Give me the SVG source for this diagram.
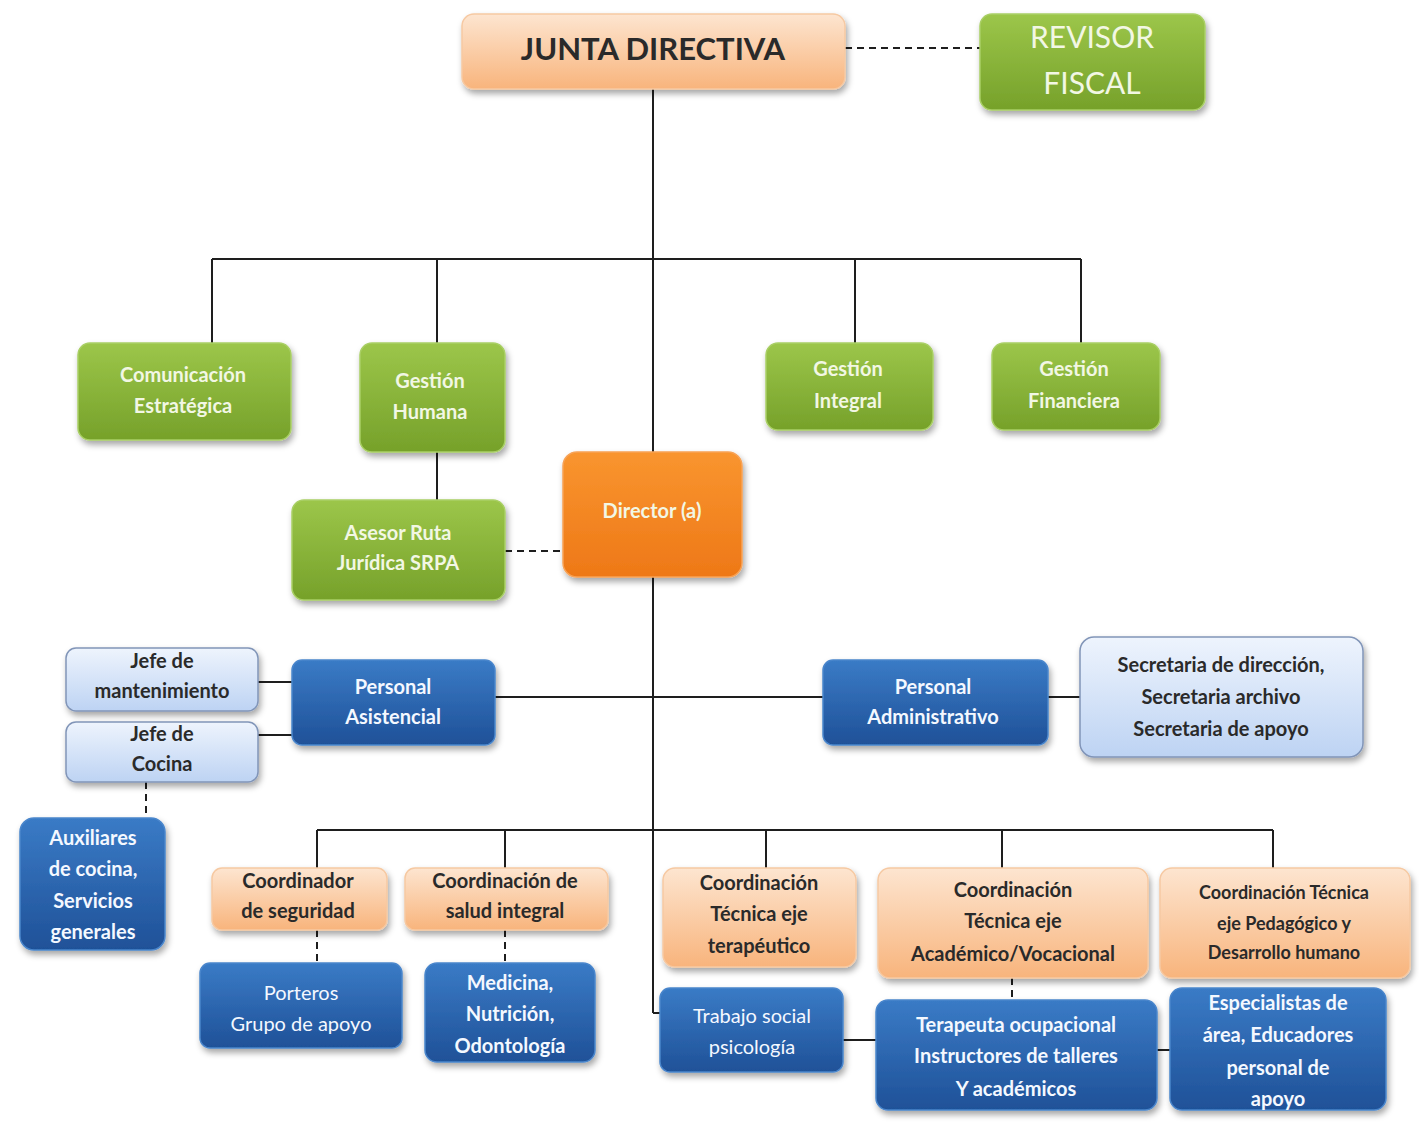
<svg xmlns="http://www.w3.org/2000/svg" width="1419" height="1122" viewBox="0 0 1419 1122">
<defs>
<linearGradient id="gPeach" x1="0" y1="0" x2="0" y2="1"><stop offset="0" stop-color="#FDE5D0"/><stop offset="1" stop-color="#F8B47C"/></linearGradient>
<linearGradient id="gGreen" x1="0" y1="0" x2="0" y2="1"><stop offset="0" stop-color="#9CC64A"/><stop offset="1" stop-color="#76A12A"/></linearGradient>
<linearGradient id="gOrange" x1="0" y1="0" x2="0" y2="1"><stop offset="0" stop-color="#F9952F"/><stop offset="1" stop-color="#EE7817"/></linearGradient>
<linearGradient id="gBlue" x1="0" y1="0" x2="0" y2="1"><stop offset="0" stop-color="#3A7BC6"/><stop offset="1" stop-color="#1F5198"/></linearGradient>
<linearGradient id="gLight" x1="0" y1="0" x2="0" y2="1"><stop offset="0" stop-color="#EEF4FD"/><stop offset="1" stop-color="#BDD3F3"/></linearGradient>
<filter id="sh" x="-10%" y="-10%" width="125%" height="135%"><feDropShadow dx="2" dy="4" stdDeviation="3" flood-color="#000" flood-opacity="0.35"/></filter>
<style>
.peach{fill:url(#gPeach);stroke:#F6C9A2;stroke-width:1.5;filter:url(#sh)}
.green{fill:url(#gGreen);stroke:#A9CF65;stroke-width:1.5;filter:url(#sh)}
.orange{fill:url(#gOrange);stroke:#F7A256;stroke-width:1.5;filter:url(#sh)}
.blue{fill:url(#gBlue);stroke:#4A86CC;stroke-width:1.5;filter:url(#sh)}
.light{fill:url(#gLight);stroke:#8195B8;stroke-width:1.5;filter:url(#sh)}
text{font-family:Lato,"Open Sans","Liberation Sans",sans-serif;font-weight:bold;text-anchor:middle;font-size:20px}
.dk{fill:#2A2A2A}
.wt{fill:#F4F8FF}
.gt{fill:#F2F7E4}
.ln{stroke:#1E1E1E;stroke-width:2;fill:none}
.ds{stroke:#1E1E1E;stroke-width:2;fill:none;stroke-dasharray:7 5}
</style>
</defs>

<g id="connectors">
<line class="ds" x1="845" y1="48" x2="980" y2="48"/>
<line class="ln" x1="653" y1="89" x2="653" y2="1013"/>
<line class="ln" x1="653" y1="1013" x2="662" y2="1013"/>
<line class="ln" x1="212" y1="259" x2="1081" y2="259"/>
<line class="ln" x1="212" y1="259" x2="212" y2="343"/>
<line class="ln" x1="437" y1="259" x2="437" y2="343"/>
<line class="ln" x1="855" y1="259" x2="855" y2="343"/>
<line class="ln" x1="1081" y1="259" x2="1081" y2="343"/>
<line class="ln" x1="437" y1="452" x2="437" y2="500"/>
<line class="ds" x1="505" y1="551" x2="563" y2="551"/>
<line class="ln" x1="495" y1="697" x2="823" y2="697"/>
<line class="ln" x1="1048" y1="697" x2="1080" y2="697"/>
<line class="ln" x1="258" y1="682" x2="292" y2="682"/>
<line class="ln" x1="258" y1="735" x2="292" y2="735"/>
<line class="ds" x1="146" y1="782" x2="146" y2="818"/>
<line class="ln" x1="317" y1="830" x2="1273" y2="830"/>
<line class="ln" x1="317" y1="830" x2="317" y2="868"/>
<line class="ln" x1="505" y1="830" x2="505" y2="868"/>
<line class="ln" x1="766" y1="830" x2="766" y2="868"/>
<line class="ln" x1="1002" y1="830" x2="1002" y2="868"/>
<line class="ln" x1="1273" y1="830" x2="1273" y2="868"/>
<line class="ds" x1="317" y1="930" x2="317" y2="963"/>
<line class="ds" x1="505" y1="930" x2="505" y2="963"/>
<line class="ds" x1="1012" y1="978" x2="1012" y2="1000"/>
<line class="ln" x1="843" y1="1040" x2="876" y2="1040"/>
<line class="ln" x1="1157" y1="1050" x2="1170" y2="1050"/>
</g>

<g id="junta"><rect class="peach" x="462" y="14" width="383" height="75" rx="12"/><text class="dk" x="653" y="60" style="font-size:31px">JUNTA DIRECTIVA</text></g>
<g id="revisor"><rect class="green" x="980" y="14" width="225" height="96" rx="12"/><text class="gt" x="1092" y="48" style="font-size:30px;font-weight:normal">REVISOR</text><text class="gt" x="1092" y="94" style="font-size:30px;font-weight:normal">FISCAL</text></g>

<g id="comunicacion"><rect class="green" x="78" y="343" width="213" height="97" rx="12"/><text class="gt" x="183" y="382">Comunicación</text><text class="gt" x="183" y="413">Estratégica</text></g>
<g id="gestion-humana"><rect class="green" x="360" y="343" width="145" height="109" rx="12"/><text class="gt" x="430" y="388">Gestión</text><text class="gt" x="430" y="419">Humana</text></g>
<g id="gestion-integral"><rect class="green" x="766" y="343" width="167" height="87" rx="12"/><text class="gt" x="848" y="376">Gestión</text><text class="gt" x="848" y="408">Integral</text></g>
<g id="gestion-financiera"><rect class="green" x="992" y="343" width="168" height="87" rx="12"/><text class="gt" x="1074" y="376">Gestión</text><text class="gt" x="1074" y="408">Financiera</text></g>

<g id="asesor"><rect class="green" x="292" y="500" width="213" height="100" rx="12"/><text class="gt" x="398" y="540">Asesor Ruta</text><text class="gt" x="398" y="570">Jurídica SRPA</text></g>
<g id="director"><rect class="orange" x="563" y="452" width="179" height="125" rx="14"/><text class="gt" x="652" y="518">Director (a)</text></g>

<g id="personal-asistencial"><rect class="blue" x="292" y="660" width="203" height="85" rx="10"/><text class="wt" x="393" y="694">Personal</text><text class="wt" x="393" y="724">Asistencial</text></g>
<g id="personal-administrativo"><rect class="blue" x="823" y="660" width="225" height="85" rx="10"/><text class="wt" x="933" y="694">Personal</text><text class="wt" x="933" y="724">Administrativo</text></g>
<g id="secretarias"><rect class="light" x="1080" y="637" width="283" height="120" rx="14"/><text class="dk" x="1221" y="672">Secretaria de dirección,</text><text class="dk" x="1221" y="704">Secretaria archivo</text><text class="dk" x="1221" y="736">Secretaria de apoyo</text></g>

<g id="jefe-mantenimiento"><rect class="light" x="66" y="648" width="192" height="63" rx="10"/><text class="dk" x="162" y="668">Jefe de</text><text class="dk" x="162" y="698">mantenimiento</text></g>
<g id="jefe-cocina"><rect class="light" x="66" y="722" width="192" height="60" rx="10"/><text class="dk" x="162" y="741">Jefe de</text><text class="dk" x="162" y="771">Cocina</text></g>
<g id="auxiliares"><rect class="blue" x="20" y="818" width="145" height="132" rx="14"/><text class="wt" x="93" y="845">Auxiliares</text><text class="wt" x="93" y="876">de cocina,</text><text class="wt" x="93" y="908">Servicios</text><text class="wt" x="93" y="939">generales</text></g>

<g id="coord-seguridad"><rect class="peach" x="212" y="868" width="175" height="62" rx="10"/><text class="dk" x="298" y="888">Coordinador</text><text class="dk" x="298" y="918">de seguridad</text></g>
<g id="coord-salud"><rect class="peach" x="405" y="868" width="203" height="62" rx="10"/><text class="dk" x="505" y="888">Coordinación de</text><text class="dk" x="505" y="918">salud  integral</text></g>
<g id="coord-terapeutico"><rect class="peach" x="663" y="868" width="193" height="99" rx="12"/><text class="dk" x="759" y="890">Coordinación</text><text class="dk" x="759" y="921">Técnica  eje</text><text class="dk" x="759" y="953">terapéutico</text></g>
<g id="coord-academico"><rect class="peach" x="878" y="868" width="270" height="110" rx="12"/><text class="dk" x="1013" y="897">Coordinación</text><text class="dk" x="1013" y="928">Técnica  eje</text><text class="dk" x="1013" y="961">Académico/Vocacional</text></g>
<g id="coord-pedagogico"><rect class="peach" x="1160" y="868" width="250" height="110" rx="12"/><text class="dk" x="1284" y="899" style="font-size:18px">Coordinación  Técnica</text><text class="dk" x="1284" y="930" style="font-size:18px">eje Pedagógico y</text><text class="dk" x="1284" y="959" style="font-size:18px">Desarrollo humano</text></g>

<g id="porteros"><rect class="blue" x="200" y="963" width="202" height="85" rx="10"/><text class="wt" x="301" y="1000" style="font-weight:normal">Porteros</text><text class="wt" x="301" y="1031" style="font-weight:normal">Grupo de apoyo</text></g>
<g id="medicina"><rect class="blue" x="425" y="963" width="170" height="99" rx="12"/><text class="wt" x="510" y="990">Medicina,</text><text class="wt" x="510" y="1021">Nutrición,</text><text class="wt" x="510" y="1053">Odontología</text></g>
<g id="trabajo-social"><rect class="blue" x="660" y="988" width="183" height="84" rx="10"/><text class="wt" x="752" y="1023" style="font-weight:normal">Trabajo social</text><text class="wt" x="752" y="1054" style="font-weight:normal">psicología</text></g>
<g id="terapeuta"><rect class="blue" x="876" y="1000" width="281" height="110" rx="12"/><text class="wt" x="1016" y="1032">Terapeuta ocupacional</text><text class="wt" x="1016" y="1063">Instructores de talleres</text><text class="wt" x="1016" y="1096">Y académicos</text></g>
<g id="especialistas"><rect class="blue" x="1170" y="988" width="216" height="122" rx="12"/><text class="wt" x="1278" y="1010">Especialistas de</text><text class="wt" x="1278" y="1042">área, Educadores</text><text class="wt" x="1278" y="1075">personal  de</text><text class="wt" x="1278" y="1106">apoyo</text></g>
</svg>
